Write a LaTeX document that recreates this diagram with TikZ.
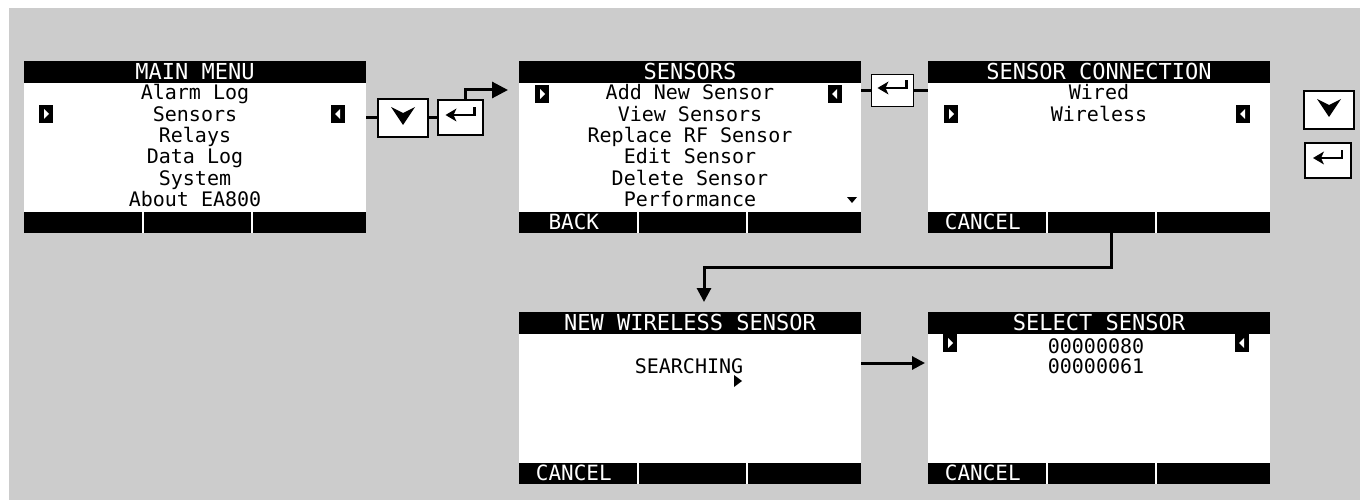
\documentclass[tikz,border=0pt]{standalone}
\usepackage{fontspec}
\newfontfamily\lcdfont{DejaVu Sans Mono}
\usepackage{tikz}
\usetikzlibrary{arrows.meta,positioning,calc}
\definecolor{panelgray}{HTML}{CCCCCC}
\tikzset{
  screen/.style={rectangle,fill=white,minimum width=342pt,minimum height=172pt,inner sep=0pt},
  lcdhead/.style={rectangle,fill=black,text=white,minimum width=342pt,inner xsep=0pt,inner ysep=2.5pt,
    text height=16pt,text depth=1pt,font=\lcdfont\fontsize{22}{24}\selectfont},
  lcdfoot/.style={rectangle,fill=black,minimum width=342pt,minimum height=21pt,inner sep=0pt},
  foottext/.style={anchor=base,text=white,inner sep=0pt,font=\lcdfont\fontsize{21}{23}\selectfont},
  item/.style={anchor=base,inner sep=0pt,font=\lcdfont\fontsize{20}{22}\selectfont},
  selright/.style={rectangle,fill=black,minimum width=14pt,minimum height=18pt,inner sep=0pt,
    path picture={\fill[white] (path picture bounding box.center) +(-2,-5) -- +(3,0) -- +(-2,5) -- cycle;}},
  selleft/.style={rectangle,fill=black,minimum width=14pt,minimum height=18pt,inner sep=0pt,
    path picture={\fill[white] (path picture bounding box.center) +(2,-5) -- +(-3,0) -- +(2,5) -- cycle;}},
  keybox/.style={rectangle,draw=black,fill=white,line width=1.2pt,inner sep=0pt},
  downkey/.style={keybox,minimum width=50pt,minimum height=38pt,
    path picture={\fill[black] (path picture bounding box.center) +(-12,-11) -- +(0,7) -- +(12,-11) -- +(0,-5) -- cycle;}},
  enterkey/.style={keybox,minimum width=45pt,minimum height=35pt,
    path picture={
      \fill[black] (path picture bounding box.center) +(-15,-2.5) -- +(-4,-9) -- +(-7,-2.5) -- +(-4,4) -- cycle;
      \draw[black,line width=2.5pt] (path picture bounding box.center) +(-8,-2.5) -- +(14,-2.5) -- +(14,-10);}},
  link/.style={line width=3pt},
  flow/.style={-{Triangle[length=#1,width=#1]},line width=3pt},
  flow/.default={16pt},
}

\begin{document}
\begin{tikzpicture}[x=1pt,y=-1pt]
  \useasboundingbox (0,0) rectangle (1360,500);
  \fill[panelgray] (9,8) rectangle (1360,500);
  % the five display screens
  \foreach \nm/\xx/\yy/\ttl/\btn in {s1/195/147/MAIN MENU/{},s2/690/147/SENSORS/BACK,
      s3/1099/147/SENSOR CONNECTION/CANCEL,s4/690/398/NEW WIRELESS SENSOR/CANCEL,
      s5/1099/398/SELECT SENSOR/CANCEL}{
    \node[screen] (\nm) at (\xx,\yy) {};
    \node[lcdhead,anchor=north] (\nm-h) at (\nm.north) {\ttl};
    \node[lcdfoot,anchor=south] (\nm-f) at (\nm.south) {};
    \node[foottext] (\nm-b) at ([xshift=55pt,yshift=4pt]\nm.south west) {\btn};
    \draw[white,line width=2pt] ([xshift=119pt]\nm-f.north west) -- ([xshift=119pt]\nm-f.south west);
    \draw[white,line width=2pt] ([xshift=228pt]\nm-f.north west) -- ([xshift=228pt]\nm-f.south west);
  }
  % menu lines
  \foreach \t [count=\i] in {Alarm Log,Sensors,Relays,Data Log,System,About EA800}
    \node[item] (m\i) at (195,{78.7+21.3*\i}) {\t};
  \foreach \t [count=\i] in {Add New Sensor,View Sensors,Replace RF Sensor,Edit Sensor,Delete Sensor,Performance}
    \node[item] (n\i) at (690,{78.7+21.3*\i}) {\t};
  \node[item] (wired) at (1099,100) {Wired};
  \node[item] (wireless) at (1099,121.3) {Wireless};
  \node[item] (search) at (689,373) {SEARCHING};
  \node[item] (id1) at (1096,353) {00000080};
  \node[item] (id2) at (1096,373) {00000061};
  \fill (734,375) -- (742,381) -- (734,387) -- cycle;
  \fill (847,197) -- (857,197) -- (852,203) -- cycle;
  % selection markers
  \node[selright] (s1-l) at (46,114) {};
  \node[selleft]  (s1-r) at (338,114) {};
  \node[selright] (s2-l) at (542,94) {};
  \node[selleft]  (s2-r) at (835,94) {};
  \node[selright] (s3-l) at (951,114) {};
  \node[selleft]  (s3-r) at (1243,114) {};
  \node[selright] (s5-l) at (950,343) {};
  \node[selleft]  (s5-r) at (1242,343) {};
  % keys
  \node[downkey] (dn1) at (403,118) {};
  \node[enterkey] (en1) at (460.5,117.5) {};
  \node[enterkey,minimum width=42pt,minimum height=32pt] (en2) at (892.5,90.5) {};
  \node[downkey] (dn2) at (1329,110) {};
  \node[enterkey,minimum width=46pt] (en3) at (1328,160.5) {};
  % connectors
  \coordinate (a1) at (508,90);
  \coordinate (a2) at (704,302);
  \coordinate (a3) at (925,363);
  \draw[link] (s1.east |- dn1.west) -- (dn1.west);
  \draw[link] (dn1.east) -- (en1.west |- dn1.east);
  \draw[flow] ([xshift=4.5pt]en1.north) |- (a1);
  \draw[link] (s2.east |- en2.west) -- (en2.west);
  \draw[link] (en2.east) -- (s3.west |- en2.east);
  \draw[flow=14pt] ([xshift=12pt]s3.south) |- ([yshift=35pt]a2) -- (a2);
  \draw[flow=13pt] (s4.east |- a3) -- (a3);
\end{tikzpicture}
\end{document}
